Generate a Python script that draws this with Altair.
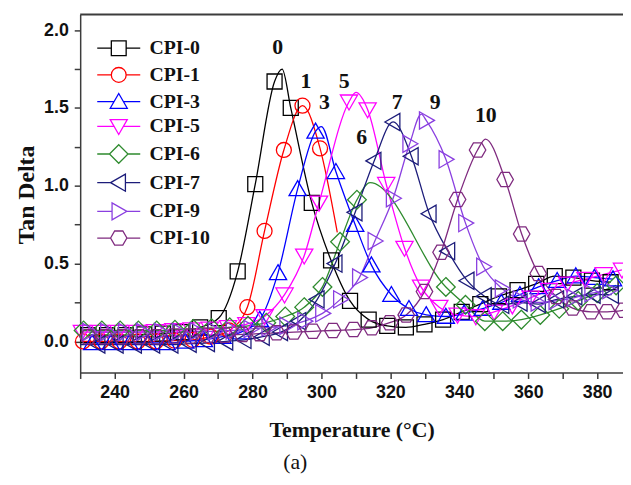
import altair as alt
import pandas as pd

names = ["CPI-0", "CPI-1", "CPI-3", "CPI-5", "CPI-6", "CPI-7", "CPI-9", "CPI-10"]
colors = ["#000000", "#FF0000", "#0000FF", "#FF00FF", "#2E8B2E", "#1C1C7A", "#8A3FE0", "#7F2A7F"]

# marker points (temperature, tan delta)
t0 = [232.4, 237.8, 243.2, 248.6, 254.0, 259.4, 264.8, 270.2, 275.7, 280.8, 286.4, 291.1, 297.2, 302.8, 308.3,
      313.7, 319.1, 324.5, 329.9, 335.3, 340.7, 346.1, 351.5, 356.9, 362.3, 367.7, 373.1, 378.5, 383.9]
v0 = [0.04, 0.04, 0.04, 0.045, 0.05, 0.06, 0.09, 0.15, 0.45, 1.01, 1.67, 1.50, 0.89, 0.52, 0.26,
      0.14, 0.10, 0.09, 0.11, 0.14, 0.19, 0.24, 0.29, 0.33, 0.37, 0.42, 0.41, 0.39, 0.38]
t1 = [230.8, 236.1, 241.4, 246.7, 252.0, 257.3, 262.6, 267.9, 273.2, 278.5, 283.5, 289.1, 294.5, 299.6]
v1 = [0.0, 0.0, 0.0, 0.0, 0.0, 0.005, 0.01, 0.03, 0.07, 0.22, 0.71, 1.23, 1.515, 1.24]
t3 = [233.5, 238.9, 244.3, 249.7, 255.1, 260.5, 265.9, 271.3, 276.7, 282.1, 287.4, 293.1, 298.3, 304.2, 309.8,
      314.5, 320.3, 325.4, 330.4, 336.1, 341.4, 346.8, 352.2, 357.6, 363.0, 368.4, 373.8, 379.2, 384.6]
v3 = [-0.01, -0.01, -0.01, -0.01, -0.01, 0.0, 0.01, 0.03, 0.06, 0.14, 0.44, 0.98, 1.35, 1.09, 0.75,
      0.49, 0.30, 0.21, 0.17, 0.16, 0.18, 0.21, 0.25, 0.30, 0.35, 0.39, 0.42, 0.41, 0.40]
t5 = [230.5, 235.8, 241.1, 246.4, 251.7, 257.0, 262.3, 267.6, 272.9, 278.2, 283.5, 289.3, 295.0, 299.3, 308.0,
      313.4, 318.8, 324.1, 328.9, 334.2, 339.5, 344.8, 350.1, 355.4, 360.7, 366.0, 371.3, 376.6, 381.9, 387.2]
v5 = [0.06, 0.06, 0.06, 0.06, 0.065, 0.07, 0.075, 0.08, 0.09, 0.11, 0.16, 0.30, 0.55, 0.89, 1.54,
      1.49, 1.01, 0.60, 0.35, 0.22, 0.17, 0.16, 0.19, 0.23, 0.28, 0.33, 0.37, 0.40, 0.43, 0.46]
t6 = [231.0, 236.3, 241.6, 246.9, 252.2, 257.5, 262.8, 268.1, 273.4, 278.7, 284.0, 289.5, 295.0, 300.3, 305.4,
      310.3, 336.1, 341.8, 347.4, 352.6, 358.0, 363.5, 369.0, 374.5, 380.0, 385.5]
v6 = [0.07, 0.07, 0.07, 0.07, 0.07, 0.075, 0.08, 0.085, 0.09, 0.10, 0.12, 0.16, 0.22, 0.35, 0.64,
      0.91, 0.35, 0.235, 0.13, 0.13, 0.14, 0.17, 0.21, 0.26, 0.31, 0.36]
t7 = [235.2, 240.5, 245.8, 251.1, 256.4, 261.7, 267.0, 272.3, 277.6, 282.9, 288.2, 293.5, 298.8, 304.0, 309.8,
      315.3, 320.8, 326.1, 331.3, 336.7, 342.3, 347.3, 352.4, 357.7, 363.0, 368.3, 373.6, 378.9, 384.2]
v7 = [-0.02, -0.02, -0.02, -0.02, -0.02, -0.015, -0.01, 0.0, 0.01, 0.03, 0.06, 0.13, 0.27, 0.50, 0.83,
      1.16, 1.41, 1.19, 0.82, 0.58, 0.39, 0.29, 0.235, 0.25, 0.24, 0.27, 0.29, 0.30, 0.30]
t9 = [232.7, 237.9, 243.1, 248.3, 253.5, 258.7, 263.9, 269.1, 274.3, 279.5, 284.7, 289.9, 295.1, 300.3, 305.5,
      311.0, 315.5, 320.8, 325.6, 330.4, 336.1, 341.8, 347.0, 352.4, 357.6, 362.8, 368.0, 373.2, 378.4, 383.6]
v9 = [0.06, 0.06, 0.06, 0.06, 0.06, 0.06, 0.065, 0.065, 0.07, 0.08, 0.09, 0.10, 0.13, 0.18, 0.27,
      0.41, 0.645, 0.92, 1.27, 1.42, 1.17, 0.76, 0.48, 0.34, 0.27, 0.25, 0.26, 0.28, 0.31, 0.33]
t10 = [232.3, 237.1, 242.2, 247.2, 252.1, 257.2, 262.0, 267.0, 272.0, 277.1, 282.1, 287.0, 292.0, 297.5, 303.3,
       309.3, 314.6, 319.8, 324.6, 329.9, 334.7, 339.5, 345.3, 353.3, 358.1, 362.9, 368.1, 372.9, 378.2, 382.9, 387.7]
v10 = [0.03, 0.03, 0.03, 0.03, 0.03, 0.035, 0.035, 0.04, 0.04, 0.045, 0.05, 0.055, 0.06, 0.065, 0.07,
       0.076, 0.087, 0.12, 0.17, 0.32, 0.573, 0.912, 1.23, 1.04, 0.69, 0.436, 0.288, 0.214, 0.19, 0.19, 0.20]

# extra curve points without a marker (peaks, end of CPI-1 curve, start at axis)
lt0, lv0 = [288.6], [1.75]
lt1, lv1 = [304.6], [0.70]
lt3, lv3 = [300.0], [1.38]
lt5, lv5 = [310.0], [1.60]
lt6, lv6 = [314.1], [1.02]
lt7, lv7 = [230.0], [-0.02]
lt9, lv9 = [329.0], [1.46]
lt10, lv10 = [347.6], [1.30]

marker_t = [t0, t1, t3, t5, t6, t7, t9, t10]
marker_v = [v0, v1, v3, v5, v6, v7, v9, v10]
line_t = [lt0, lt1, lt3, lt5, lt6, lt7, lt9, lt10]
line_v = [lv0, lv1, lv3, lv5, lv6, lv7, lv9, lv10]

# peak labels
ann_text = ["0", "1", "3", "5", "6", "7", "9", "10"]
ann_t = [287.3, 295.5, 300.9, 306.6, 311.7, 322.0, 333.0, 347.7]
ann_v = [1.89, 1.67, 1.54, 1.674, 1.314, 1.541, 1.541, 1.456]

# marker shapes (unit square -1..1) and half widths at y=0 for legend lines
shapes = [
    ("M-1,-1H1V1H-1Z", 1.0, 1.0),
    ("M1,0A1,1,0,1,1,-1,0A1,1,0,1,1,1,0Z", 1.0, 1.0),
    ("M0,-1.1L1.15,0.9L-1.15,0.9Z", 0.63, 0.63),
    ("M0,1.1L1.15,-0.9L-1.15,-0.9Z", 0.63, 0.63),
    ("M0,-1.25L1.25,0L0,1.25L-1.25,0Z", 1.25, 1.25),
    ("M-1.1,0L0.9,-1.15L0.9,1.15Z", 1.1, 0.9),
    ("M1.1,0L-0.9,-1.15L-0.9,1.15Z", 0.9, 1.1),
    ("M-1.1,0L-0.55,-0.95L0.55,-0.95L1.1,0L0.55,0.95L-0.55,0.95Z", 1.1, 1.1),
]
marker_paths = [s[0] for s in shapes]
legend_paths = [f"M-2.9,0H-{a}M{b},0H2.9" + p for p, a, b in shapes]

rows = []
for name, mt, mv, lt, lv in zip(names, marker_t, marker_v, line_t, line_v):
    for t, v in zip(mt, mv):
        rows.append({"series": name, "T": t, "v": v, "marker": True})
    for t, v in zip(lt, lv):
        rows.append({"series": name, "T": t, "v": v, "marker": False})
df = pd.DataFrame(rows)
ann = pd.DataFrame({"label": ann_text, "T": ann_t, "v": ann_v})
legend_df = pd.DataFrame({"series": names})

W, H = 549, 362
axis_color = "#3c3c3c"

x_enc = alt.X("T:Q", scale=alt.Scale(domain=[230, 387.5], nice=False, zero=False),
              title="Temperature (°C)",
              axis=alt.Axis(values=list(range(230, 390, 10)),
                            labelExpr="datum.value % 20 == 0 ? format(datum.value, 'd') : ''",
                            grid=False, tickSize=6, tickWidth=1.5, tickColor=axis_color,
                            domainColor=axis_color, domainWidth=1.5,
                            labelFont="Liberation Sans", labelFontWeight="bold", labelFontSize=18,
                            labelColor="#111111", labelPadding=5, labelFlush=False, labelOverlap=False,
                            titleFont="Liberation Serif", titleFontWeight="bold", titleFontSize=22,
                            titleColor="#111111", titleY=58, titleBaseline="middle"))
y_enc = alt.Y("v:Q", scale=alt.Scale(domain=[-0.2, 2.1], nice=False, zero=False),
              title="Tan Delta",
              axis=alt.Axis(values=[i * 0.25 for i in range(9)],
                            labelExpr="datum.value % 0.5 == 0 ? format(datum.value, '.1f') : ''",
                            grid=False, tickSize=6, tickWidth=1.5, tickColor=axis_color,
                            domainColor=axis_color, domainWidth=1.5,
                            labelFont="Liberation Sans", labelFontWeight="bold", labelFontSize=18,
                            labelColor="#111111", labelPadding=6, labelOverlap=False,
                            titleFont="Liberation Serif", titleFontWeight="bold", titleFontSize=24,
                            titleColor="#111111", titleX=-54, titleY=182, titleAngle=270,
                            titleBaseline="middle", titleAlign="center"))

color_scale = alt.Scale(domain=names, range=colors)

lines = alt.Chart(df).mark_line(interpolate="monotone", strokeWidth=1.3).encode(
    x=x_enc, y=y_enc,
    color=alt.Color("series:N", scale=color_scale, legend=None),
)

points = alt.Chart(df).transform_filter("datum.marker").mark_point(
    filled=False, size=230, strokeWidth=1.3, opacity=1
).encode(
    x=x_enc, y=y_enc,
    color=alt.Color("series:N", scale=color_scale, legend=None),
    shape=alt.Shape("series:N", scale=alt.Scale(domain=names, range=marker_paths), legend=None),
)

legend_layer = alt.Chart(legend_df).transform_filter("false").mark_point(
    filled=False, size=225, strokeWidth=1.3, opacity=1
).encode(
    color=alt.Color("series:N", scale=color_scale, legend=alt.Legend(title=None)),
    shape=alt.Shape("series:N", scale=alt.Scale(domain=names, range=legend_paths),
                    legend=alt.Legend(title=None)),
)

labels = alt.Chart(ann).mark_text(font="Liberation Serif", fontWeight="bold", fontSize=22,
                                  color="#111111").encode(x=x_enc, y=y_enc, text="label:N")

frame_top = alt.Chart(pd.DataFrame({"k": [0]})).mark_rule(color=axis_color, strokeWidth=2).encode(
    x=alt.value(0), x2=alt.value(W), y=alt.value(0)
)

chart = alt.layer(lines, points, labels, frame_top, legend_layer).resolve_scale(
    color="independent", shape="independent"
).properties(
    width=W, height=H,
    autosize=alt.AutoSizeParams(type="none"),
    padding={"left": 73, "top": 4, "right": 0, "bottom": 103},
    title=alt.Title("(a)", orient="bottom", font="Liberation Serif", fontSize=22, fontWeight="normal",
                    color="#111111", dx=-57, offset=12),
).configure_view(stroke=None).configure_legend(
    orient="none", legendX=29, legendY=24, padding=0,
    symbolSize=225, symbolStrokeWidth=1.3,
    labelFont="Liberation Serif", labelFontWeight="bold", labelFontSize=20, labelColor="#111111",
    labelOffset=21, rowPadding=5,
)

chart.save("out.html", embed_options={"renderer": "svg", "actions": False})
